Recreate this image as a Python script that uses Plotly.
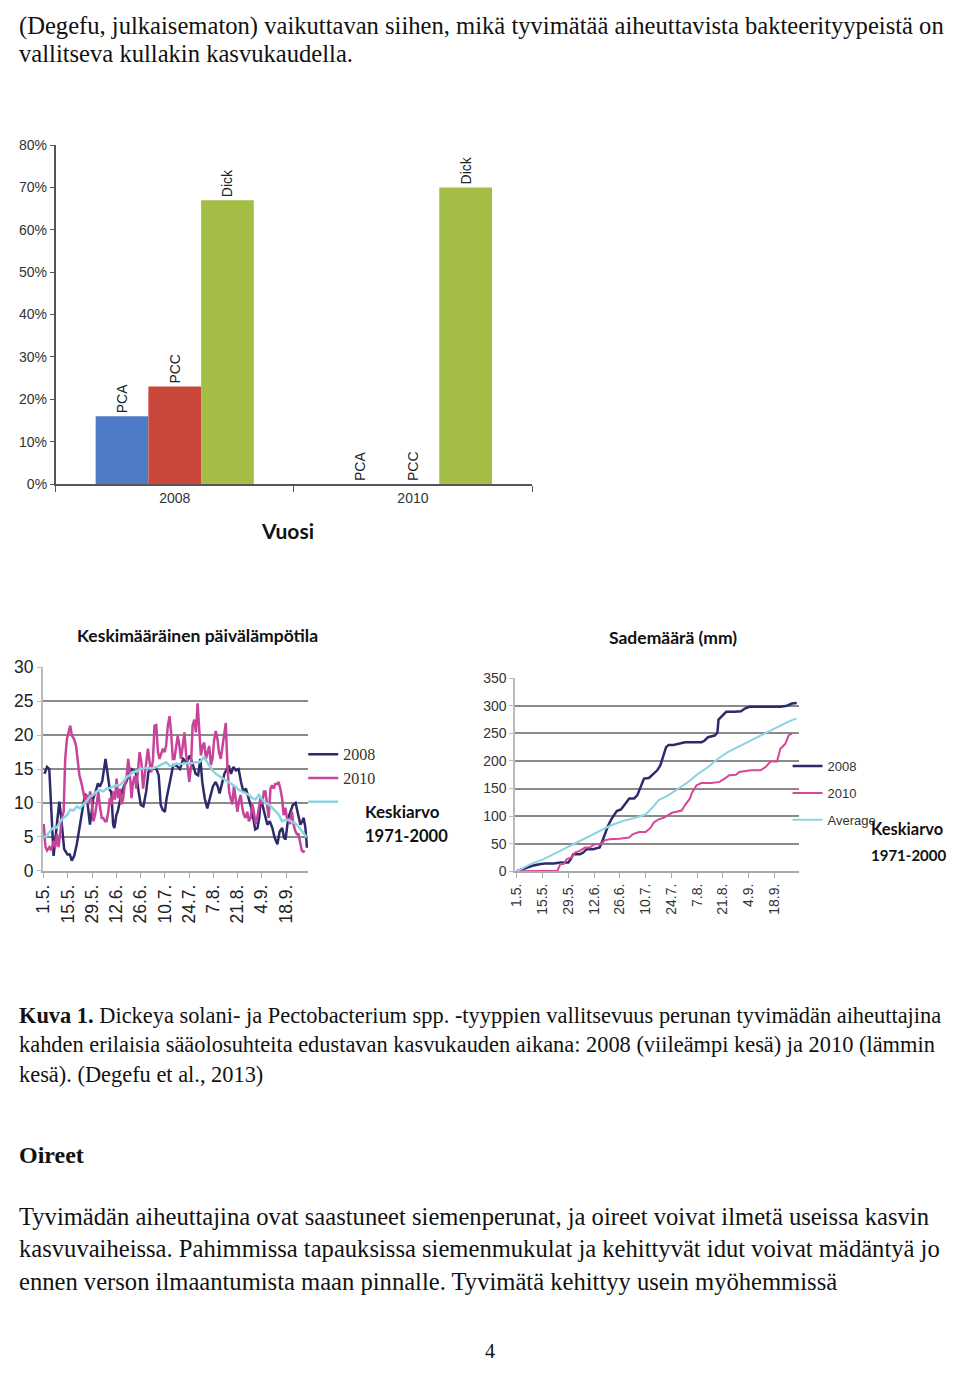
import plotly.graph_objects as go

# page body has an 8px default margin; the figure is sized so the whole page is 960x1377
M = 8
W, H = 960 - 2 * M, 1377 - 2 * M
def px(x): return (x - M) / W
def py(y): return 1 - (y - M) / H

# ---------------- data ----------------
years = ["2008", "2010"]
pca = [0.16, 0.0]
pcc = [0.23, 0.0]
dick = [0.67, 0.70]

date_ticks = [0, 14, 28, 42, 56, 70, 84, 98, 112, 126, 140]
date_labels = ["1.5.", "15.5.", "29.5.", "12.6.", "26.6.", "10.7.", "24.7.", "7.8.", "21.8.", "4.9.", "18.9."]

t08_day = [0.4, 1.9, 3.2, 4.2, 5.7, 8.0, 9.0, 9.9, 10.9, 11.8, 13.7, 15.1, 16.2, 17.6, 19.1, 20.4, 22.3, 23.9,
           25.2, 26.7, 27.7, 28.6, 30.0, 31.3, 32.4, 33.8, 35.7, 37.0, 38.2, 39.0, 40.1, 40.8, 42.0, 42.7, 43.9,
           45.2, 46.6, 47.7, 49.0, 50.6, 51.9, 53.4, 54.8, 56.1, 57.6, 59.2, 60.5, 61.8, 63.4, 64.9, 66.4, 67.6,
           68.7, 70.0, 71.0, 71.9, 73.3, 74.8, 76.7, 78.7, 80.6, 82.5, 84.4, 86.3, 87.8, 89.2, 90.5, 91.6, 93.0,
           94.5, 95.8, 97.7, 99.3, 100.6, 101.6, 103.1, 104.4, 105.8, 106.9, 108.2, 109.6, 111.1, 112.6, 114.0,
           115.3, 116.8, 118.4, 119.7, 121.0, 122.2, 123.5, 124.5, 125.4, 126.4, 127.9, 129.2, 130.6, 132.1,
           133.4, 135.0, 136.3, 137.8, 138.8, 139.7, 141.3, 142.6, 143.9, 145.5, 147.0, 148.3, 149.3, 150.2,
           151.2, 152.1]
t08_val = [14.3, 15.3, 15.0, 9.2, 2.2, 7.8, 10.2, 8.3, 5.8, 3.2, 2.4, 2.4, 1.5, 2.2, 3.9, 5.8, 8.7, 11.4,
           10.2, 6.8, 8.7, 10.7, 11.7, 12.9, 12.4, 13.2, 16.5, 14.1, 11.9, 11.7, 6.8, 6.3, 8.3, 8.7, 10.2,
           11.7, 12.6, 13.1, 14.1, 15.0, 14.8, 14.3, 11.7, 9.7, 9.5, 11.7, 14.6, 15.0, 15.0, 15.1, 14.1, 9.7,
           9.0, 8.7, 10.7, 12.1, 13.6, 15.6, 15.5, 15.0, 16.5, 16.0, 17.0, 15.5, 14.3, 14.1, 16.5, 13.1, 10.7,
           9.2, 10.7, 12.4, 13.1, 12.4, 11.4, 13.1, 14.3, 15.0, 15.5, 14.3, 15.3, 14.8, 15.0, 13.1,
           11.7, 12.1, 10.7, 9.5, 7.8, 6.1, 6.3, 7.8, 10.7, 9.7, 7.8, 6.8, 7.3, 6.3,
           4.9, 3.9, 5.8, 6.3, 4.9, 4.6, 7.8, 8.7, 9.7, 10.0, 8.3, 6.8, 7.3, 7.8,
           6.3, 3.4]

t10_day = [0, 1.0, 1.9, 3.3, 4.4, 5.7, 6.7, 7.6, 8.6, 9.6, 10.5, 11.5, 12.4, 13.4, 14.3, 15.3, 16.3, 17.6,
           18.7, 19.7, 20.6, 22.0, 23.1, 23.9, 24.9, 25.8, 26.8, 27.7, 28.7, 29.6, 30.6, 31.5, 32.5, 33.5, 34.4,
           35.4, 36.3, 37.3, 38.2, 39.2, 40.2, 41.1, 42.1, 43.0, 44.0, 44.9, 45.9, 46.8, 47.8, 48.8, 49.7, 50.7,
           51.6, 52.6, 53.5, 54.5, 55.4, 56.4, 57.4, 58.3, 59.3, 60.2, 61.2, 62.1, 63.1, 64.0, 65.0, 66.0, 66.9,
           67.9, 68.8, 69.8, 70.7, 71.7, 72.7, 73.6, 74.6, 75.5, 76.5, 77.4, 78.4, 79.3, 80.3, 81.3, 82.2, 83.2,
           84.1, 85.1, 86.0, 87.0, 87.9, 88.9, 89.9, 90.8, 91.8, 92.7, 93.7, 94.6, 95.6, 96.6, 97.5, 98.5, 99.4,
           100.4, 101.3, 102.3, 103.3, 104.2, 105.2, 106.1, 107.1, 108.0, 109.0, 109.9, 110.9, 111.9, 112.8,
           113.8, 114.7, 115.7, 116.6, 117.6, 118.5, 119.5, 120.5, 121.4, 122.4, 123.3, 124.3, 125.2, 126.2,
           127.2, 128.1, 129.1, 130.0, 131.0, 131.9, 132.9, 133.8, 134.8, 135.7, 136.7, 137.7, 138.6, 139.6,
           140.5, 141.5, 142.4, 143.4, 144.3, 145.3, 146.3, 147.2, 148.2, 149.1, 150.1, 150.7]
t10_val = [6.9, 3.5, 3.0, 3.5, 3.0, 4.4, 3.5, 5.4, 3.5, 5.9, 7.8, 8.7, 16.5, 19.4, 20.4, 21.4, 19.9, 19.4,
           18.4, 16.5, 14.1, 12.7, 11.2, 10.3, 11.2, 9.8, 11.7, 10.3, 7.3, 8.2, 9.8, 11.7, 9.4, 7.8, 7.8,
           7.3, 7.3, 8.7, 10.7, 9.8, 11.7, 10.5, 13.6, 10.7, 12.1, 9.8, 10.7, 12.6, 13.6, 16.5, 14.6, 10.7,
           13.1, 14.0, 12.1, 14.5, 17.5, 16.0, 12.1, 14.0, 16.0, 18.0, 16.0, 14.5, 16.4, 21.4, 21.5, 17.5, 16.5,
           17.5, 18.0, 17.5, 18.4, 21.4, 22.8, 20.3, 16.5, 16.5, 18.0, 19.9, 18.4, 16.5, 18.4, 20.4, 17.4, 14.6,
           13.1, 15.5, 21.4, 22.3, 20.4, 24.7, 19.9, 17.0, 18.4, 18.9, 16.5, 17.4, 18.4, 15.6, 16.5, 19.4, 20.6,
           19.4, 17.4, 16.5, 18.4, 19.9, 21.8, 15.6, 11.7, 10.7, 9.8, 12.6, 10.3, 8.7, 10.3,
           11.2, 9.3, 8.2, 7.8, 8.7, 7.3, 7.8, 9.8, 8.7, 6.9, 7.8, 9.3, 10.7, 9.8,
           11.7, 11.7, 9.8, 7.8, 12.1, 12.6, 12.1, 12.8, 12.8, 13.1, 12.1, 10.7, 8.2, 9.3,
           7.8, 7.3, 6.9, 8.7, 6.9, 5.9, 5.4, 5.4, 4.0, 3.0, 2.8, 3.0]

tavg_day = [0, 1.9, 3.8, 5.7, 7.6, 9.6, 11.5, 13.4, 15.3, 17.2, 19.1, 21.0, 22.9, 24.9, 26.8, 28.7, 30.6,
            32.5, 34.4, 36.3, 38.2, 40.2, 42.1, 44.0, 45.9, 47.8, 49.7, 51.6, 53.5, 55.4, 57.4, 59.3, 61.2,
            63.1, 65.0, 66.9, 68.8, 70.7, 72.7, 74.6, 76.5, 78.4, 80.3, 82.2, 84.1, 86.0, 87.9, 89.9, 91.8,
            92.7, 93.7, 95.6, 97.5, 99.4, 101.3, 103.3, 105.2, 107.1, 109.0, 110.9, 112.8, 114.7, 116.6, 118.5,
            120.5, 122.4, 124.3, 126.2, 128.1, 130.0, 131.9, 133.8, 135.7, 137.7, 139.6, 141.5, 143.4, 145.3,
            147.2, 149.1, 152.0]
tavg_val = [4.9, 5.2, 5.9, 6.4, 6.4, 7.3, 7.8, 8.2, 9.0, 8.9, 9.5, 9.2, 9.8, 10.3, 11.0, 11.2, 11.7,
            11.9, 11.7, 12.1, 12.2, 12.4, 12.6, 12.6, 13.1, 13.8, 14.1, 14.6, 14.6, 15.0, 15.1, 15.2, 15.1,
            15.1, 15.3, 15.5, 15.8, 16.0, 15.5, 15.5, 15.8, 15.7, 15.8, 15.8, 15.9, 15.9, 16.0, 16.0, 16.5,
            16.8, 16.3, 15.5, 14.8, 14.3, 14.0, 13.6, 13.3, 13.1, 12.8, 12.4, 11.9, 11.7, 11.4, 11.2,
            10.7, 10.5, 11.2, 10.5, 10.0, 9.8, 9.3, 8.8, 8.3, 7.3, 7.5, 7.5, 7.3, 7.0,
            6.5, 5.9, 4.9]

p08_day = [0, 3.9, 8.4, 12.9, 15.5, 20.0, 23.9, 28.0, 29.3, 30.7, 34.3, 36.1, 37.9, 41.4, 45.0, 46.4, 47.7,
           49.5, 51.3, 53.0, 54.3, 56.6, 59.3, 61.1, 63.8, 65.5, 67.3, 69.1, 71.8, 74.5, 76.3, 78.0, 79.8,
           81.1, 82.5, 85.2, 87.9, 91.4, 95.0, 100.4, 102.1, 103.9, 107.5, 109.0, 109.6, 111.4, 113.8, 118.2,
           121.8, 123.9, 126.3, 130.7, 137.9, 143.2, 146.8, 149.5, 152.1]
p08_val = [0, 4, 10, 13, 14, 14, 16, 16, 22, 31, 31, 34, 40, 40, 43, 54, 67,
           82, 94, 103, 109, 112, 124, 132, 132, 138, 153, 168, 169, 177, 183, 192, 210,
           225, 229, 229, 231, 234, 234, 234, 237, 243, 246, 251, 275, 281, 289, 289,
           290, 295, 298, 298, 298, 298, 300, 304, 305]

p10_day = [0, 5.7, 12.9, 20.0, 22.1, 23.6, 25.4, 27.1, 29.8, 31.6, 34.3, 37.0, 39.6, 42.3, 45.9, 47.7, 50.4,
           55.7, 61.0, 62.9, 66.4, 70.0, 72.7, 74.5, 77.1, 79.8, 82.5, 84.3, 89.6, 91.4, 94.1, 95.0, 97.7,
           100.4, 105.7, 110.2, 112.9, 115.5, 119.1, 120.9, 127.1, 132.5, 135.2, 137.9, 141.4, 143.2, 145.9,
           147.7, 149.5]
p10_val = [0, 0, 0, 0, 1, 13, 13, 22, 25, 34, 37, 43, 43, 49, 49, 56, 58,
           59, 61, 67, 71, 71, 79, 89, 94, 97, 103, 106, 110, 120, 132, 141, 156,
           160, 160, 162, 168, 174, 175, 180, 183, 183, 189, 199, 199, 222, 231,
           246, 250]

pavg_day = [0, 7.5, 14.6, 21.8, 28.9, 36.0, 43.2, 50.4, 57.5, 64.6, 70.0, 73.6, 77.1, 82.5, 87.9, 93.2,
            98.6, 104.0, 109.3, 114.6, 120.0, 125.4, 130.7, 136.0, 141.4, 146.8, 152.0]
pavg_val = [0, 13, 22, 34, 46, 58, 70, 82, 91, 97, 103, 115, 129, 138, 150, 162,
            177, 189, 204, 216, 225, 234, 243, 252, 261, 270, 277]

# ---------------- figure ----------------
NAVY = "#2d2a6c"
MAG = "#c8449a"
CYAN = "#8bd4e0"
fig = go.Figure()

lab_font = dict(family="Liberation Sans, Arial, sans-serif", size=14, color="#222")
for name, vals, col in [("PCA", pca, "#4f7bc6"), ("PCC", pcc, "#c9463b"), ("Dick", dick, "#a4bd45")]:
    fig.add_trace(go.Bar(x=years, y=vals, name=name, marker=dict(color=col, line=dict(width=0)),
                         text=[name] * len(vals), textposition="outside", textangle=-90,
                         textfont=lab_font, cliponaxis=False, showlegend=False,
                         xaxis="x", yaxis="y"))

fig.add_trace(go.Scatter(x=t08_day, y=t08_val, mode="lines", name="2008", line=dict(color=NAVY, width=2.5),
                         xaxis="x2", yaxis="y2", legend="legend", legendgroup="a"))
fig.add_trace(go.Scatter(x=t10_day, y=t10_val, mode="lines", name="2010", line=dict(color=MAG, width=2.5),
                         xaxis="x2", yaxis="y2", legend="legend", legendgroup="b"))
fig.add_trace(go.Scatter(x=tavg_day, y=tavg_val, mode="lines", name=" ", line=dict(color=CYAN, width=2.5),
                         xaxis="x2", yaxis="y2", legend="legend", legendgroup="c"))

fig.add_trace(go.Scatter(x=p08_day, y=p08_val, mode="lines", name="2008", line=dict(color=NAVY, width=2.5),
                         xaxis="x3", yaxis="y3", legend="legend2", legendgroup="d"))
fig.add_trace(go.Scatter(x=p10_day, y=p10_val, mode="lines", name="2010", line=dict(color="#d6479a", width=2),
                         xaxis="x3", yaxis="y3", legend="legend2", legendgroup="e"))
fig.add_trace(go.Scatter(x=pavg_day, y=pavg_val, mode="lines", name="Average", line=dict(color=CYAN, width=2),
                         xaxis="x3", yaxis="y3", legend="legend2", legendgroup="f"))

tick_font_bar = dict(family="Liberation Sans, Arial, sans-serif", size=14, color="#333")
tick_font_t = dict(family="Liberation Sans, Arial, sans-serif", size=17.5, color="#222")
narrow = "Liberation Sans Narrow, Arial Narrow, Liberation Sans, sans-serif"
tick_font_p = dict(family=narrow, size=14, color="#333")

fig.update_layout(
    width=W, height=H, margin=dict(l=0, r=0, t=0, b=0), autosize=False,
    paper_bgcolor="white", plot_bgcolor="white",
    barmode="group", bargap=0.336, bargroupgap=0,
    xaxis=dict(domain=[px(47), px(528)], anchor="y", type="category", showline=True, linecolor="#555",
               linewidth=1.5, ticks="outside", tickson="boundaries", ticklen=6, tickcolor="#555",
               tickfont=tick_font_bar, showgrid=False, fixedrange=True),
    yaxis=dict(domain=[py(481), py(137)], anchor="x", range=[0, 0.8], dtick=0.1, tickformat=".0%",
               showline=True, linecolor="#555", linewidth=1.5, ticks="outside", ticklen=4, tickcolor="#555",
               tickfont=tick_font_bar, showgrid=False, zeroline=False),
    xaxis2=dict(domain=[px(34), px(302)], anchor="y2", range=[-0.57, 152.8], tickvals=date_ticks,
                ticktext=date_labels, tickangle=-90, showline=True, linecolor="#aaa", linewidth=1.5,
                ticks="outside", ticklen=5, tickcolor="#aaa", tickfont=tick_font_t, showgrid=False,
                zeroline=False),
    yaxis2=dict(domain=[py(873.5), py(667)], anchor="x2", range=[0, 30], dtick=5, showline=True,
                linecolor="#bbb", linewidth=1.5, ticks="outside", ticklen=4, tickcolor="#bbb",
                tickfont=tick_font_t, showgrid=True, gridcolor="#8a8a8a", gridwidth=1.5, zeroline=False),
    xaxis3=dict(domain=[px(511), px(798)], anchor="y3", range=[-0.9, 153.6], tickvals=date_ticks,
                ticktext=date_labels, tickangle=-90, showline=True, linecolor="#aaa", linewidth=1.5,
                ticks="outside", ticklen=5, tickcolor="#aaa", tickfont=dict(family=narrow, size=14, color="#333"),
                showgrid=False, zeroline=False),
    yaxis3=dict(domain=[py(874), py(678)], anchor="x3", range=[0, 350], dtick=50, showline=True,
                linecolor="#bbb", linewidth=1.5, ticks="outside", ticklen=4, tickcolor="#bbb",
                tickfont=tick_font_p, showgrid=True, gridcolor="#8a8a8a", gridwidth=1.5, zeroline=False),
    legend=dict(x=px(297), y=py(738), xanchor="left", yanchor="top", bgcolor="rgba(0,0,0,0)",
                font=dict(family="Liberation Serif, Times New Roman, serif", size=16, color="#333"),
                itemwidth=30, tracegroupgap=0),
    legend2=dict(x=px(786), y=py(752), xanchor="left", yanchor="top", bgcolor="rgba(0,0,0,0)",
                 font=dict(family=narrow, size=13, color="#333"), itemwidth=30, tracegroupgap=7),
)

serif = "Liberation Serif, Times New Roman, serif"
sans_b = "Lato, Open Sans, sans-serif"
anns = []
def txt(t, x, y, size, family=serif, color="#111", xanchor="left", bg=None):
    d = dict(text=t, x=px(x), y=py(y), xref="paper", yref="paper", xanchor=xanchor, yanchor="middle",
             showarrow=False, font=dict(family=family, size=size, color=color), align="left")
    if bg:
        d["bgcolor"] = bg
    anns.append(d)

txt("(Degefu, julkaisematon) vaikuttavan siihen, mikä tyvimätää aiheuttavista bakteerityypeistä on", 8, 16, 24.6)
txt("vallitseva kullakin kasvukaudella.", 8, 44, 24.6)
txt("<b>Vuosi</b>", 281, 528, 21, family=sans_b, xanchor="center")
txt("<b>Keskimääräinen päivälämpötila</b>", 190, 635, 17.5, family=sans_b, xanchor="center")
txt("<b>Sademäärä (mm)</b>", 670, 637, 17.5, family=sans_b, xanchor="center")
txt("<b>Keskiarvo</b>", 357, 813, 17, family=sans_b, bg="white")
txt("<b>1971-2000</b>", 357, 838, 16.5, family=sans_b, bg="white")
txt("<b>Keskiarvo</b>", 868, 831, 16.5, family=sans_b)
txt("<b>1971-2000</b>", 868, 857, 15, family=sans_b)
txt("<b>Kuva 1.</b> Dickeya solani- ja Pectobacterium spp. -tyyppien vallitsevuus perunan tyvimädän aiheuttajina",
    8, 1020, 22.4)
txt("kahden erilaisia sääolosuhteita edustavan kasvukauden aikana: 2008 (viileämpi kesä) ja 2010 (lämmin",
    8, 1050, 22.4)
txt("kesä). (Degefu et al., 2013)", 8, 1080, 22.4)
txt("<b>Oireet</b>", 8, 1162, 24)
txt("Tyvimädän aiheuttajina ovat saastuneet siemenperunat, ja oireet voivat ilmetä useissa kasvin", 8, 1224, 24.6)
txt("kasvuvaiheissa. Pahimmissa tapauksissa siemenmukulat ja kehittyvät idut voivat mädäntyä jo", 8, 1257, 24.6)
txt("ennen verson ilmaantumista maan pinnalle. Tyvimätä kehittyy usein myöhemmissä", 8, 1290, 24.6)
txt("4", 486, 1361, 20, xanchor="center")
fig.update_layout(annotations=anns)

fig.write_html("out.html", config={"displayModeBar": False})
